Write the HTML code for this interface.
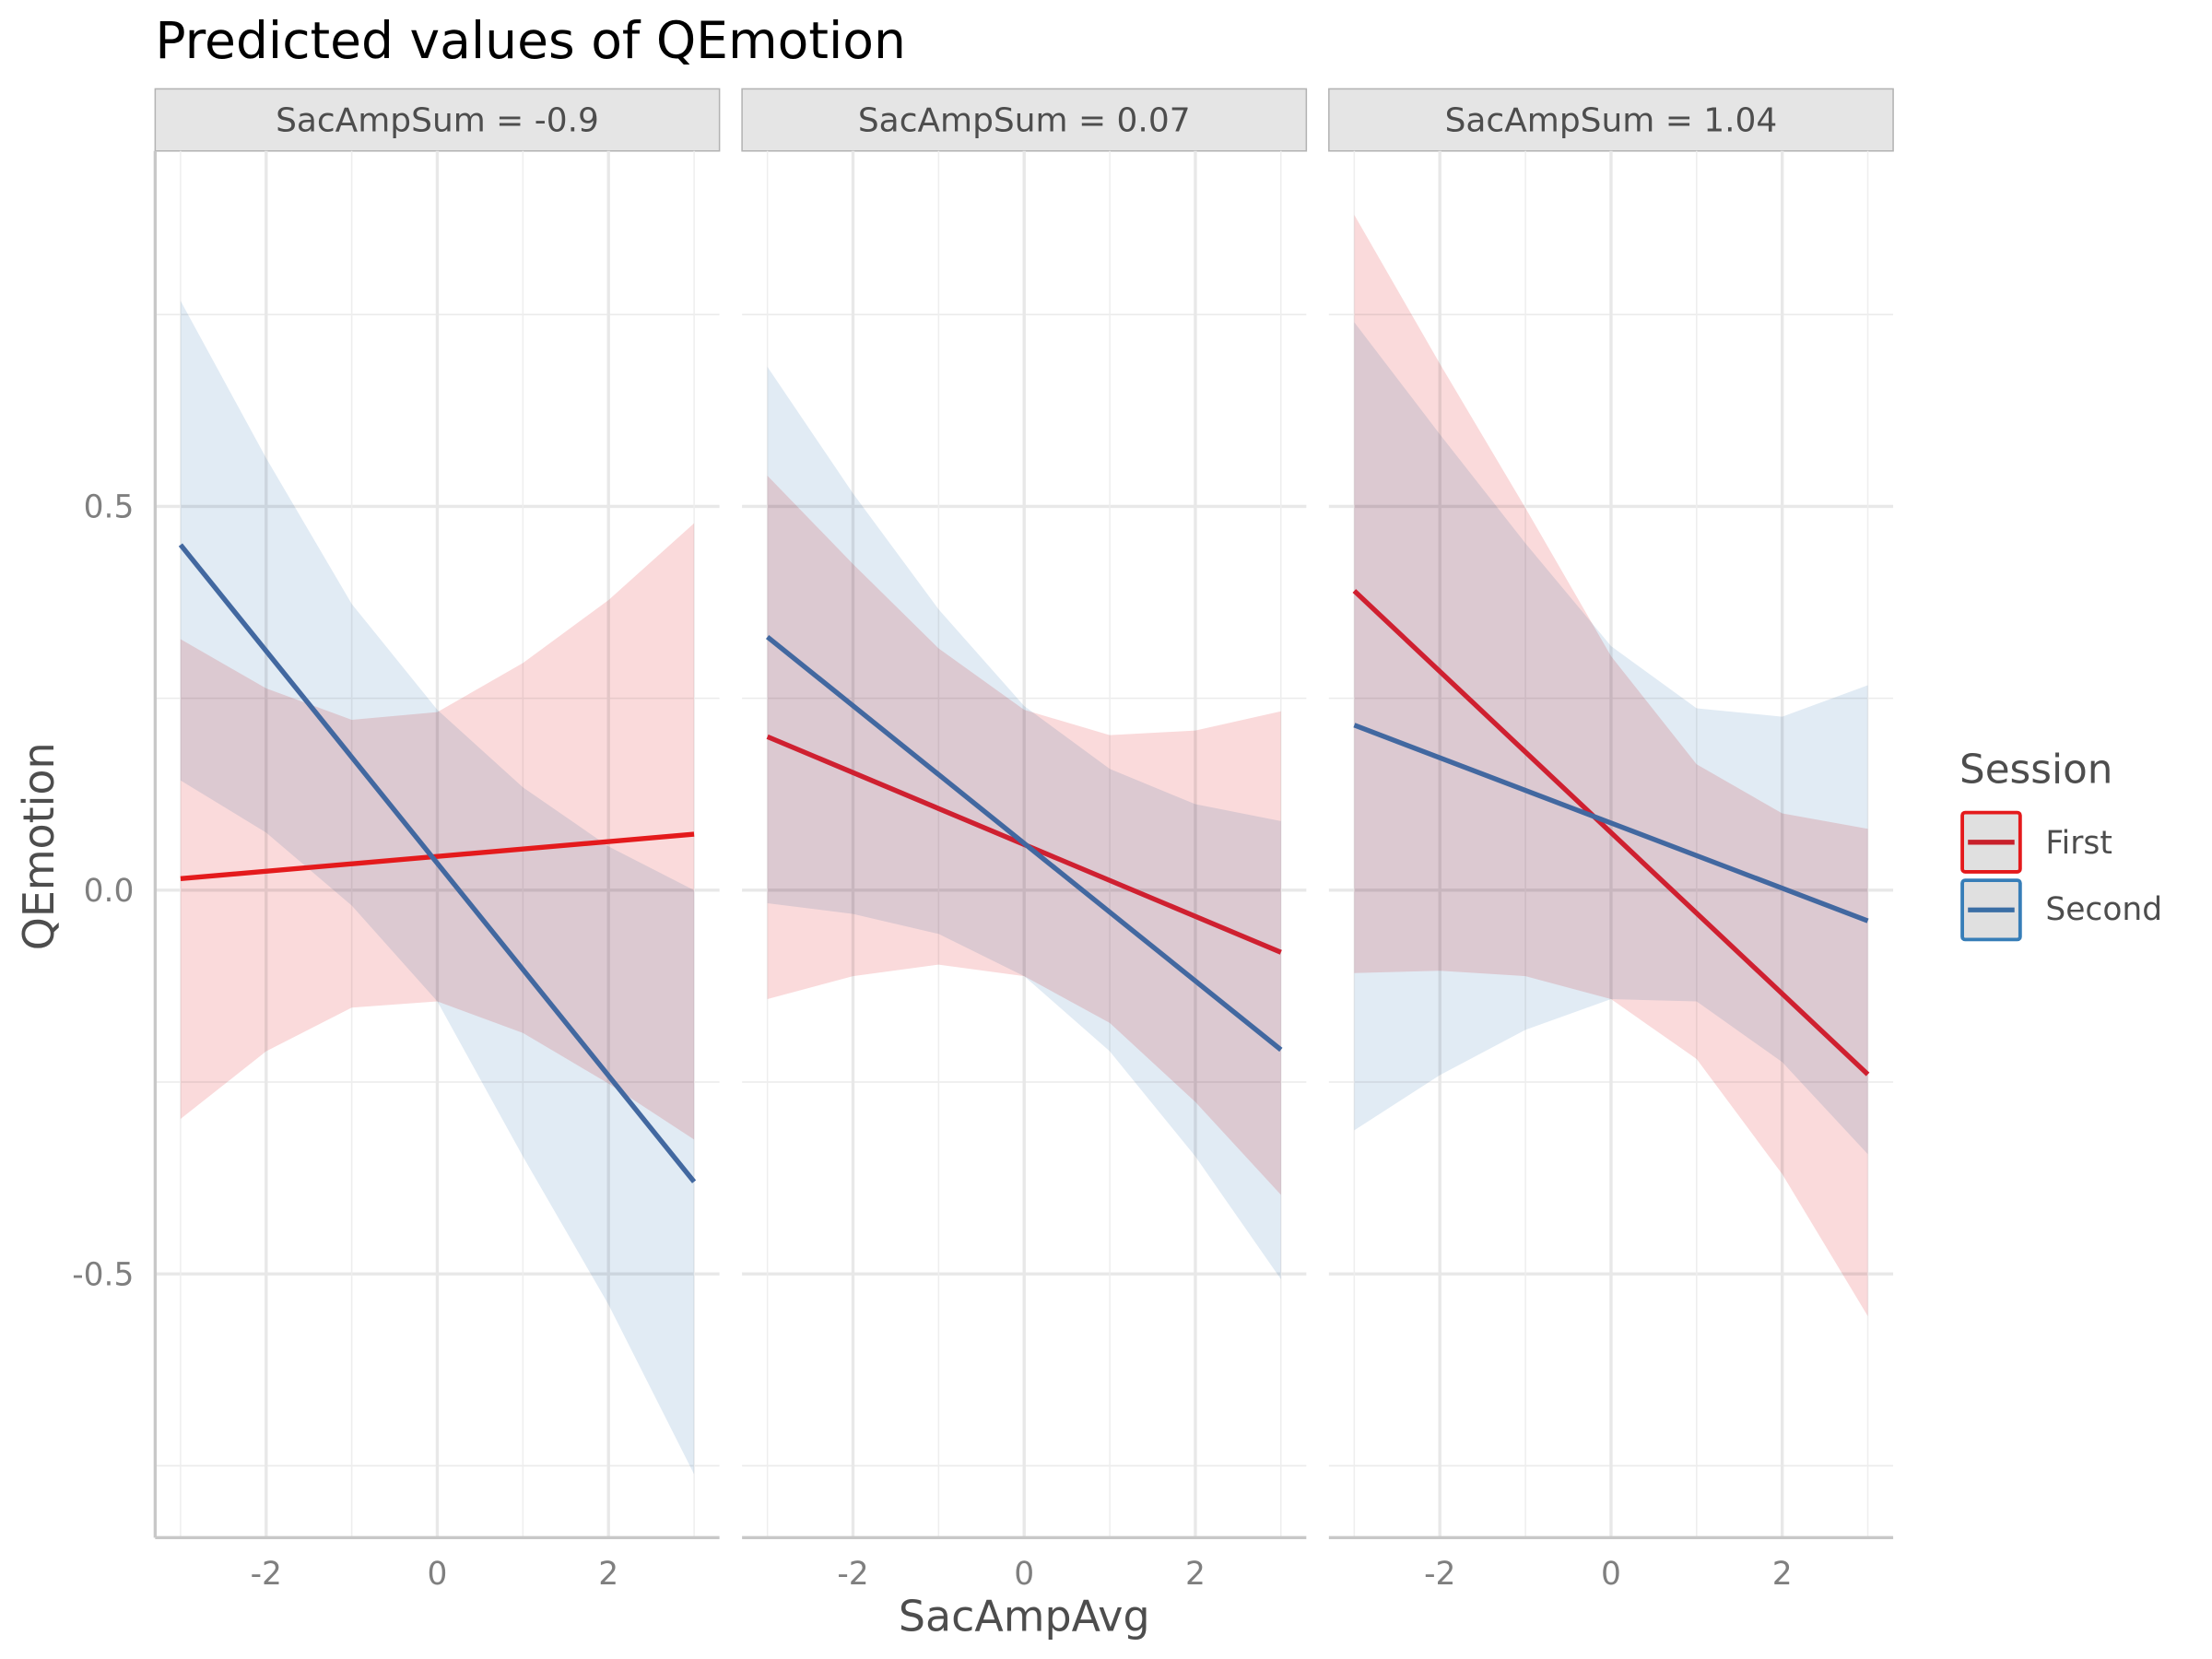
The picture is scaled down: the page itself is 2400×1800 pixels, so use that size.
<!DOCTYPE html>
<html><head><meta charset="utf-8">
<style>
html,body{margin:0;padding:0;background:#fff;}
svg{display:block;font-family:"DejaVu Sans","Liberation Sans",sans-serif;}
</style></head>
<body>
<svg id="chart" width="2400" height="1800" viewBox="0 0 1568 1176" xmlns="http://www.w3.org/2000/svg">
<text x="110" y="41" font-size="36" fill="#000">Predicted values of QEmotion</text>
<text transform="translate(38,600) rotate(-90)" text-anchor="middle" font-size="30" fill="#4d4d4d">QEmotion</text>
<text x="726" y="1156" text-anchor="middle" font-size="30" fill="#4d4d4d">SacAmpAvg</text>
<g>
<text x="1389" y="555" font-size="28.5" fill="#4d4d4d">Session</text>
<g>
<rect x="1391" y="576" width="41" height="42" rx="2" fill="#e0e0e0" stroke="#e41a1c" stroke-width="2.5"/>
<line x1="1395" y1="597" x2="1428" y2="597" stroke="#c8202a" stroke-width="3.5"/>
<text x="1450" y="605" font-size="22.5" fill="#4d4d4d">First</text>
</g>
<g>
<rect x="1391" y="624" width="41" height="42" rx="2" fill="#e0e0e0" stroke="#377eb8" stroke-width="2.5"/>
<line x1="1395" y1="645" x2="1428" y2="645" stroke="#3a6ea5" stroke-width="3.5"/>
<text x="1450" y="652" font-size="22.5" fill="#4d4d4d">Second</text>
</g>
</g>
<g id="panels"></g>
</svg>
<script>
const panelLabels = ["SacAmpSum = -0.9", "SacAmpSum = 0.07", "SacAmpSum = 1.04"];
const xs = [-3, -2, -1, 0, 1, 2, 3];
const xTicks = [-2, 0, 2];
const yTicks = [0.5, 0, -0.5];
const yTickLabels = ["0.5", "0.0", "-0.5"];
const yMinor = [0.75, 0.25, -0.25, -0.75];
// predicted lines: value at x=-3 and x=3
const firstLine = [[0.015, 0.073], [0.20, -0.081], [0.39, -0.24]];
const secondLine = [[0.45, -0.38], [0.33, -0.208], [0.215, -0.04]];
// ribbons at xs
const firstUpper = [
 [0.327, 0.263, 0.222, 0.232, 0.296, 0.378, 0.478],
 [0.54, 0.425, 0.315, 0.235, 0.202, 0.208, 0.233],
 [0.88, 0.686, 0.498, 0.305, 0.164, 0.10, 0.08]];
const firstLower = [
 [-0.298, -0.21, -0.153, -0.145, -0.186, -0.252, -0.325],
 [-0.142, -0.112, -0.097, -0.112, -0.173, -0.276, -0.397],
 [-0.108, -0.105, -0.112, -0.142, -0.22, -0.37, -0.555]];
const secondUpper = [
 [0.768, 0.563, 0.373, 0.235, 0.134, 0.057, 0.0],
 [0.682, 0.517, 0.366, 0.24, 0.158, 0.112, 0.09],
 [0.74, 0.594, 0.452, 0.318, 0.237, 0.226, 0.267]];
const secondLower = [
 [0.143, 0.075, -0.02, -0.145, -0.347, -0.54, -0.761],
 [-0.017, -0.031, -0.057, -0.112, -0.21, -0.347, -0.507],
 [-0.313, -0.241, -0.182, -0.142, -0.145, -0.224, -0.344]];

const NS = "http://www.w3.org/2000/svg";
const panelRoot = document.getElementById("panels");
const panelLeft = [110, 526, 942], panelW = 400, plotTop = 107, plotBottom = 1090;
function mk(tag, attrs, parent){const e=document.createElementNS(NS,tag);for(const k in attrs)e.setAttribute(k,attrs[k]);parent.appendChild(e);return e;}
function yScale(v){return 631 - v*544;}
for(let p=0;p<3;p++){
  const L = panelLeft[p];
  const xScale = v => L + 200 + v*60.67;
  const g = mk("g",{},panelRoot);
  
  
  const s = mk("rect",{x:L,y:63,width:panelW,height:44,fill:"#e5e5e5",stroke:"#b3b3b3","stroke-width":1},g);
  
  
  const st = mk("text",{x:L+200,y:93,"text-anchor":"middle","font-size":23.5,fill:"#4d4d4d"},g);
  st.textContent = panelLabels[p];
  
  
  yMinor.forEach(v=>{const l=mk("line",{x1:L,x2:L+panelW,y1:yScale(v),y2:yScale(v),stroke:"#ebebeb","stroke-width":1},g);
    });
  yTicks.forEach(v=>{const l=mk("line",{x1:L,x2:L+panelW,y1:yScale(v),y2:yScale(v),stroke:"#e8e8e8","stroke-width":2.2},g);
    });
  xs.forEach(v=>{const major = xTicks.includes(v);
    const l=mk("line",{x1:xScale(v),x2:xScale(v),y1:plotTop,y2:plotBottom,stroke:major?"#e8e8e8":"#eeeeee","stroke-width":major?2.2:1},g);
    });
  function ribbon(up, lo, color, name){
    let d = xs.map((x,i)=>(i?"L":"M")+xScale(x)+","+yScale(up[i])).join(" ");
    for(let i=xs.length-1;i>=0;i--) d += " L"+xScale(xs[i])+","+yScale(lo[i]);
    const r = mk("path",{d:d+" Z",fill:color,style:"mix-blend-mode:multiply"},g);
    
    
  }
  ribbon(secondUpper[p], secondLower[p], "#e1ebf4", "ribbon-second");
  ribbon(firstUpper[p], firstLower[p], "#fadadb", "ribbon-first");
  const l1 = mk("line",{x1:xScale(-3),y1:yScale(firstLine[p][0]),x2:xScale(3),y2:yScale(firstLine[p][1]),stroke:p===0?"#e41a1c":"#cf2030","stroke-width":3.5},g);
  
  
  const l2 = mk("line",{x1:xScale(-3),y1:yScale(secondLine[p][0]),x2:xScale(3),y2:yScale(secondLine[p][1]),stroke:"#4268a0","stroke-width":3.5},g);
  
  
  const ax = mk("line",{x1:L,x2:L+panelW,y1:plotBottom,y2:plotBottom,stroke:"#c8c8c8","stroke-width":2.2},g);
  
  
  xTicks.forEach(v=>{const t=mk("text",{x:xScale(v),y:1123,"text-anchor":"middle","font-size":22.5,fill:"#7f7f7f"},g);
    t.textContent=String(v);});
  if(p===0){
    const ay = mk("line",{x1:L,x2:L,y1:plotTop,y2:plotBottom,stroke:"#c8c8c8","stroke-width":2.2},g);
    
    
    yTicks.forEach((v,i)=>{const t=mk("text",{x:95,y:yScale(v)+8,"text-anchor":"end","font-size":22.5,fill:"#7f7f7f"},g);
      t.textContent=yTickLabels[i];});
  }
}
</script>
</body></html>
